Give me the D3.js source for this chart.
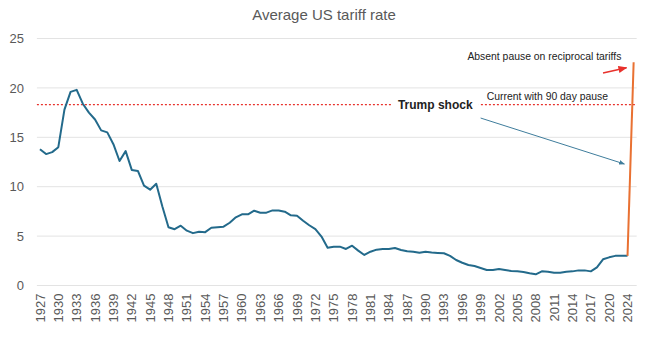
<!DOCTYPE html>
<html>
<head>
<meta charset="utf-8">
<script src="https://cdn.jsdelivr.net/npm/d3@7"></script>
<style>
  body { margin: 0; background: #fff; }
  svg { display: block; font-family: "Liberation Sans", Arial, sans-serif; }
</style>
</head>
<body>
<div id="chart"></div>
<script>
// categorias (falta 2023 en la serie original)
const years = d3.range(1927, 2023).map(String).concat(['2024', '2025']);

// tipo arancelario medio, 1927-2024
const tariff = [
  13.8, 13.3, 13.5, 14.0, 17.8, 19.6, 19.8, 18.4, 17.5, 16.8,
  15.7, 15.5, 14.3, 12.6, 13.6, 11.7, 11.6, 10.1, 9.7, 10.3,
  8.0, 5.9, 5.7, 6.05, 5.55, 5.3, 5.45, 5.4, 5.85, 5.9,
  5.95, 6.35, 6.9, 7.2, 7.2, 7.57, 7.37, 7.37, 7.6, 7.6,
  7.47, 7.1, 7.07, 6.56, 6.1, 5.7, 4.95, 3.83, 3.93, 3.93,
  3.7, 4.03, 3.53, 3.09, 3.42, 3.63, 3.7, 3.7, 3.8, 3.6,
  3.46, 3.42, 3.32, 3.42, 3.35, 3.3, 3.26, 3.0, 2.58, 2.3,
  2.07, 1.97, 1.77, 1.57, 1.57, 1.67, 1.57, 1.47, 1.44, 1.37,
  1.23, 1.13, 1.43, 1.4, 1.3, 1.3, 1.4, 1.43, 1.53, 1.53,
  1.43, 1.84, 2.65, 2.85, 3.0, 3.0, 3.0
];

// escenario sin pausa a los aranceles recíprocos
const spikeYears = ['2024', '2025'];
const spikeValues = [3.0, 22.6];

const pauseRate = 18.3; // actual con pausa de 90 días
const yTicks = [0, 5, 10, 15, 20, 25];

const width = 649, height = 339;

const svg = d3.select('#chart').append('svg')
  .attr('width', width)
  .attr('height', height);

const x = d3.scaleBand().domain(years).range([36.9, 636.7]).padding(0);
const y = d3.scaleLinear().domain([0, 25]).range([285.5, 38.5]);
const cx = d => x(d) + x.bandwidth() / 2;

// Titulo
svg.append('text')
  .attr('x', 324)
  .attr('y', 20)
  .attr('text-anchor', 'middle')
  .attr('font-size', 15)
  .attr('fill', '#595959')
  .text('Average US tariff rate');

// Rejilla
svg.append('g')
  .selectAll('line')
  .data(yTicks)
  .enter().append('line')
  .attr('x1', x.range()[0]).attr('x2', x.range()[1])
  .attr('y1', d => y(d)).attr('y2', d => y(d))
  .attr('stroke', '#e3e3e3')
  .attr('stroke-width', 1);

// Eje Y
const yAxis = svg.append('g')
  .attr('transform', 'translate(24,0)')
  .call(d3.axisLeft(y).tickValues(yTicks).tickSize(0).tickPadding(0));
yAxis.select('.domain').remove();
yAxis.selectAll('text')
  .attr('font-size', 13)
  .attr('font-family', '"Liberation Sans", Arial, sans-serif')
  .attr('fill', '#595959');

// Eje X
const xAxis = svg.append('g')
  .attr('transform', 'translate(0,' + y(0) + ')')
  .call(d3.axisBottom(x).tickValues(years.filter((d, i) => i % 3 === 0)).tickSize(0));
xAxis.select('.domain').remove();
xAxis.selectAll('text')
  .attr('transform', 'rotate(-90)')
  .attr('text-anchor', 'end')
  .attr('x', -8)
  .attr('y', 0)
  .attr('dy', '0.35em')
  .attr('font-size', 13)
  .attr('font-family', '"Liberation Sans", Arial, sans-serif')
  .attr('fill', '#595959');

// Linea roja punteada
svg.append('line')
  .attr('x1', x.range()[0]).attr('x2', x.range()[1])
  .attr('y1', y(pauseRate)).attr('y2', y(pauseRate))
  .attr('stroke', '#e8312c')
  .attr('stroke-width', 1.3)
  .attr('stroke-dasharray', '2,2');

// Serie principal
const line = d3.line()
  .x((d, i) => cx(years[i]))
  .y(d => y(d));

svg.append('path')
  .datum(tariff)
  .attr('fill', 'none')
  .attr('stroke', '#236a8b')
  .attr('stroke-width', 2)
  .attr('stroke-linejoin', 'round')
  .attr('d', line);

// Salto sin pausa
svg.append('path')
  .datum(spikeValues)
  .attr('fill', 'none')
  .attr('stroke', '#e97132')
  .attr('stroke-width', 2)
  .attr('d', d3.line().x((d, i) => cx(spikeYears[i])).y(d => y(d)));

// Flechas
const defs = svg.append('defs');
[['arrBlue', '#3f7d9c'], ['arrRed', '#e8312c']].forEach(function(a) {
  defs.append('marker')
    .attr('id', a[0])
    .attr('viewBox', '0 0 10 10')
    .attr('refX', 9).attr('refY', 5)
    .attr('markerWidth', 6).attr('markerHeight', 6)
    .attr('orient', 'auto')
    .append('path')
    .attr('d', 'M0,1 L10,5 L0,9 z')
    .attr('fill', a[1]);
});

svg.append('line')
  .attr('x1', cx('1999')).attr('y1', y(16.95))
  .attr('x2', cx('2022') + 3).attr('y2', y(12.3))
  .attr('stroke', '#3f7d9c')
  .attr('stroke-width', 1)
  .attr('marker-end', 'url(#arrBlue)');

svg.append('line')
  .attr('x1', cx('2019')).attr('y1', y(21.5))
  .attr('x2', cx('2024') - 1).attr('y2', y(22.05))
  .attr('stroke', '#e8312c')
  .attr('stroke-width', 1.5)
  .attr('marker-end', 'url(#arrRed)');

// Textos
const shockBg = svg.append('rect').attr('fill', '#fff');
const shock = svg.append('text')
  .attr('x', cx('1985') + 3)
  .attr('y', y(pauseRate) + 4.5)
  .attr('font-size', 12)
  .attr('font-weight', 'bold')
  .attr('fill', '#222')
  .text('Trump shock');
const bb = shock.node().getBBox();
shockBg
  .attr('x', bb.x - 6).attr('y', bb.y)
  .attr('width', bb.width + 12).attr('height', bb.height);

svg.append('text')
  .attr('x', cx('2000'))
  .attr('y', y(pauseRate) - 5)
  .attr('font-size', 10.4)
  .attr('fill', '#222')
  .text('Current with 90 day pause');

svg.append('text')
  .attr('x', cx('1997') - 1)
  .attr('y', y(22.8))
  .attr('font-size', 10.4)
  .attr('fill', '#222')
  .text('Absent pause on reciprocal tariffs');
</script>
</body>
</html>
